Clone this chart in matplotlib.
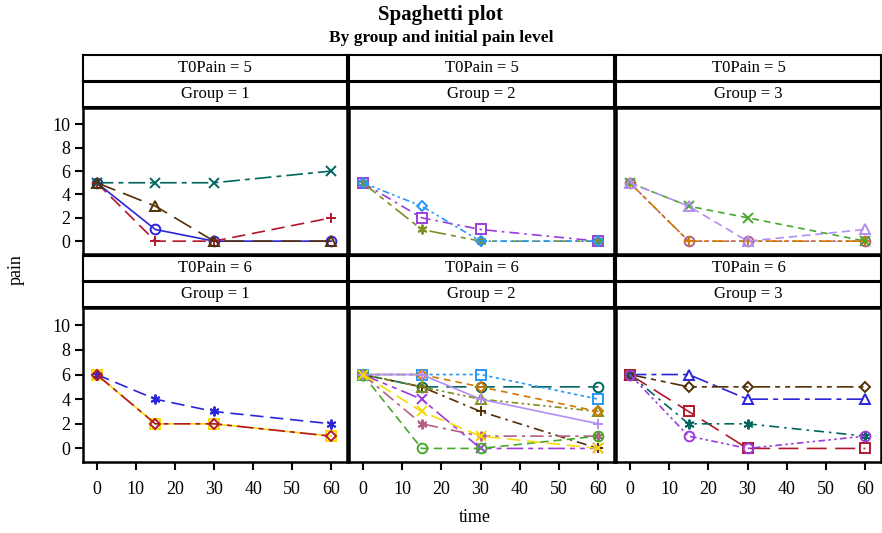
import numpy as np
import matplotlib
matplotlib.use("Agg")
import matplotlib.pyplot as plt

plt.rcParams['font.family'] = ['Liberation Serif', 'DejaVu Serif']

# data
time = [0, 15, 30, 60]
pain_levels = [5, 6]
groups = [1, 2, 3]

t5g1 = [[5, 1, 0, 0], [5, 0, 0, 2], [5, 5, 5, 6], [5, 3, 0, 0]]
t5g2 = [[5, 2, 1, 0], [5, 1, 0, 0], [5, 3, 0, 0]]
t5g3 = [[5, 0, 0, 0], [5, 0, 0, 0], [5, 3, 2, 0], [5, 3, 0, 1]]
t6g1 = [[6, 2, 2, 1], [6, 4, 3, 2], [6, 2, 2, 1]]
t6g2 = [[6, 5, 5, 5], [6, 5, 3, 0], [6, 4, 0, 0], [6, 5, 4, 3], [6, 6, 6, 4],
        [6, 2, 1, 1], [6, 6, 5, 3], [6, 0, 0, 1], [6, 6, 4, 2], [6, 3, 1, 0]]
t6g3 = [[6, 6, 4, 4], [6, 3, 0, 0], [6, 2, 2, 1], [6, 5, 5, 5], [6, 1, 0, 1]]

panels = [[t5g1, t5g2, t5g3], [t6g1, t6g2, t6g3]]

colors = ['#2A25D9', '#B2182B', '#01665E', '#543005', '#9D3CDB', '#7F8E1F',
          '#2597FA', '#B26084', '#D17800', '#47A82A', '#B38EF3', '#F9DA04']
markers = ['o', '+', 'x', '^', 's', (6, 2, 0), 'D']
dashes = ['-', (0, (8, 4)), (0, (10, 3, 3, 3)), (0, (12, 5)), (0, (6, 3, 1.5, 3)),
          (0, (10, 3, 3, 3, 3, 3)), (0, (4, 2, 1.5, 2, 1.5, 2)), (0, (2, 2)),
          (0, (8, 3, 2, 3)), (0, (4, 3)), (0, (5, 3))]

W, H = 882, 533
fig = plt.figure(figsize=(W / 100, H / 100), dpi=100)

def px_axes(x0, y0, x1, y1):
    return fig.add_axes([x0 / W, 1 - y1 / H, (x1 - x0) / W, (y1 - y0) / H])

fig.text(441 / W, 1 - 15 / H, 'Spaghetti plot', ha='center', va='center',
         fontsize=15, fontweight='bold')
fig.text(441 / W, 1 - 38 / H, 'By group and initial pain level', ha='center',
         va='center', fontsize=12.5, fontweight='bold')

col_x = [(83, 347), (349, 614), (616, 881)]
rows = [dict(h1=(55, 81), h2=(82, 107), plot=(108, 254)),
        dict(h1=(256, 281), h2=(282, 307), plot=(308, 462))]

k = 0
for r, row in enumerate(rows):
    for c, (x0, x1) in enumerate(col_x):
        for key, label in (('h1', 'T0Pain = %d' % pain_levels[r]),
                           ('h2', 'Group = %d' % groups[c])):
            hy0, hy1 = row[key]
            hax = px_axes(x0, hy0, x1, hy1)
            hax.set_xticks([])
            hax.set_yticks([])
            for sp in hax.spines.values():
                sp.set_linewidth(1.5)
            hax.text(0.5, 0.5, label, ha='center', va='center', fontsize=12,
                     transform=hax.transAxes)
        py0, py1 = row['plot']
        ax = px_axes(x0, py0, x1, py1)
        for sp in ax.spines.values():
            sp.set_linewidth(1.8)
        for vals in panels[r][c]:
            col = colors[k % len(colors)]
            mk = markers[k % len(markers)]
            ls = dashes[k % len(dashes)]
            filled = mk in ('+', 'x') or isinstance(mk, tuple)
            ax.plot(time, vals, color=col, linestyle=ls, linewidth=1.2,
                    marker=mk, markersize=7 if mk not in ('D',) else 5,
                    markerfacecolor=col if filled else 'none',
                    markeredgecolor=col, markeredgewidth=1.4)
            k += 1
        ax.set_xlim(-3.5, 64)
        ax.set_ylim(-1.1, 11.4)
        ax.set_xticks(range(0, 61, 10))
        ax.set_yticks(range(0, 11, 2))
        ax.tick_params(direction='out', width=1.5, length=6, labelsize=13, pad=3)
        if c != 0:
            ax.tick_params(axis='y', left=False, labelleft=False)
        if r == 0:
            ax.tick_params(axis='x', bottom=False, labelbottom=False)
        else:
            ax.tick_params(axis='x', pad=8)

fig.text(16 / W, 1 - 270 / H, 'pain', rotation=90, ha='center', va='center',
         fontsize=13)
fig.text(475 / W, 1 - 518 / H, 'time', ha='center', va='center', fontsize=13)

fig.savefig('out.png', dpi=100)
